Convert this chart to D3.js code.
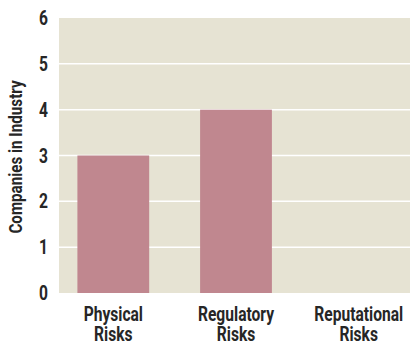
<!DOCTYPE html>
<html><head><meta charset="utf-8">
<script src="https://cdn.jsdelivr.net/npm/d3@7"></script>
<style>
body{margin:0;background:#fff;}
text{font-family:Roboto,"Liberation Sans",sans-serif;font-weight:bold;fill:#262626;}
</style></head><body>
<svg id="c" width="410" height="345"></svg>
<script>
const categories = [["Physical","Risks"],["Regulatory","Risks"],["Reputational","Risks"]];
const values = [3, 4, 0];
const yTicks = [0,1,2,3,4,5,6];
const yTitle = "Companies in Industry";

(function(){
const svg = d3.select("#c");
const pL = 59, pR = 410, pT = 18, pB = 293;
const cond = 0.8;
const x = d3.scaleBand().domain(d3.range(categories.length)).range([59, 413]).paddingInner(0.415).paddingOuter(0.15);
const y = d3.scaleLinear().domain([0, 6]).range([pB, pT]);

svg.append("rect").attr("x", pL).attr("y", pT).attr("width", pR-pL).attr("height", pB-pT).attr("fill", "#e6e3d3");

svg.append("g").selectAll("line").data(yTicks.slice(1, -1)).join("line")
  .attr("x1", pL).attr("x2", pR).attr("y1", d=>y(d)).attr("y2", d=>y(d))
  .attr("stroke", "#fff").attr("stroke-width", 1.5);

svg.append("g").selectAll("rect").data(values).join("rect")
  .attr("x", (d,i)=>x(i)).attr("width", x.bandwidth())
  .attr("y", d=>y(d)).attr("height", d=>pB - y(d))
  .attr("fill", "#c0878f");

// y tick labels
svg.append("g").selectAll("text").data(yTicks).join("text")
  .attr("transform", d=>`translate(48,${y(d)}) scale(${cond},1)`)
  .attr("text-anchor","end").attr("dy","0.36em")
  .style("font-size","19.5px").text(d3.format("d"));

const xl = svg.append("g").selectAll("text").data(categories).join("text")
  .attr("text-anchor","middle").style("font-size","19.5px")
  .attr("transform", (d,i)=>`translate(${x(i)+x.bandwidth()/2},0) scale(${cond},1)`);
xl.selectAll("tspan").data(d=>d).join("tspan").attr("x",0).attr("y",(d,j)=>321+j*20).text(d=>d);

svg.append("text").attr("transform",`translate(22,157) rotate(-90) scale(${cond},1)`)
  .attr("text-anchor","middle").style("font-size","19px").text(yTitle);
})();
</script></body></html>
